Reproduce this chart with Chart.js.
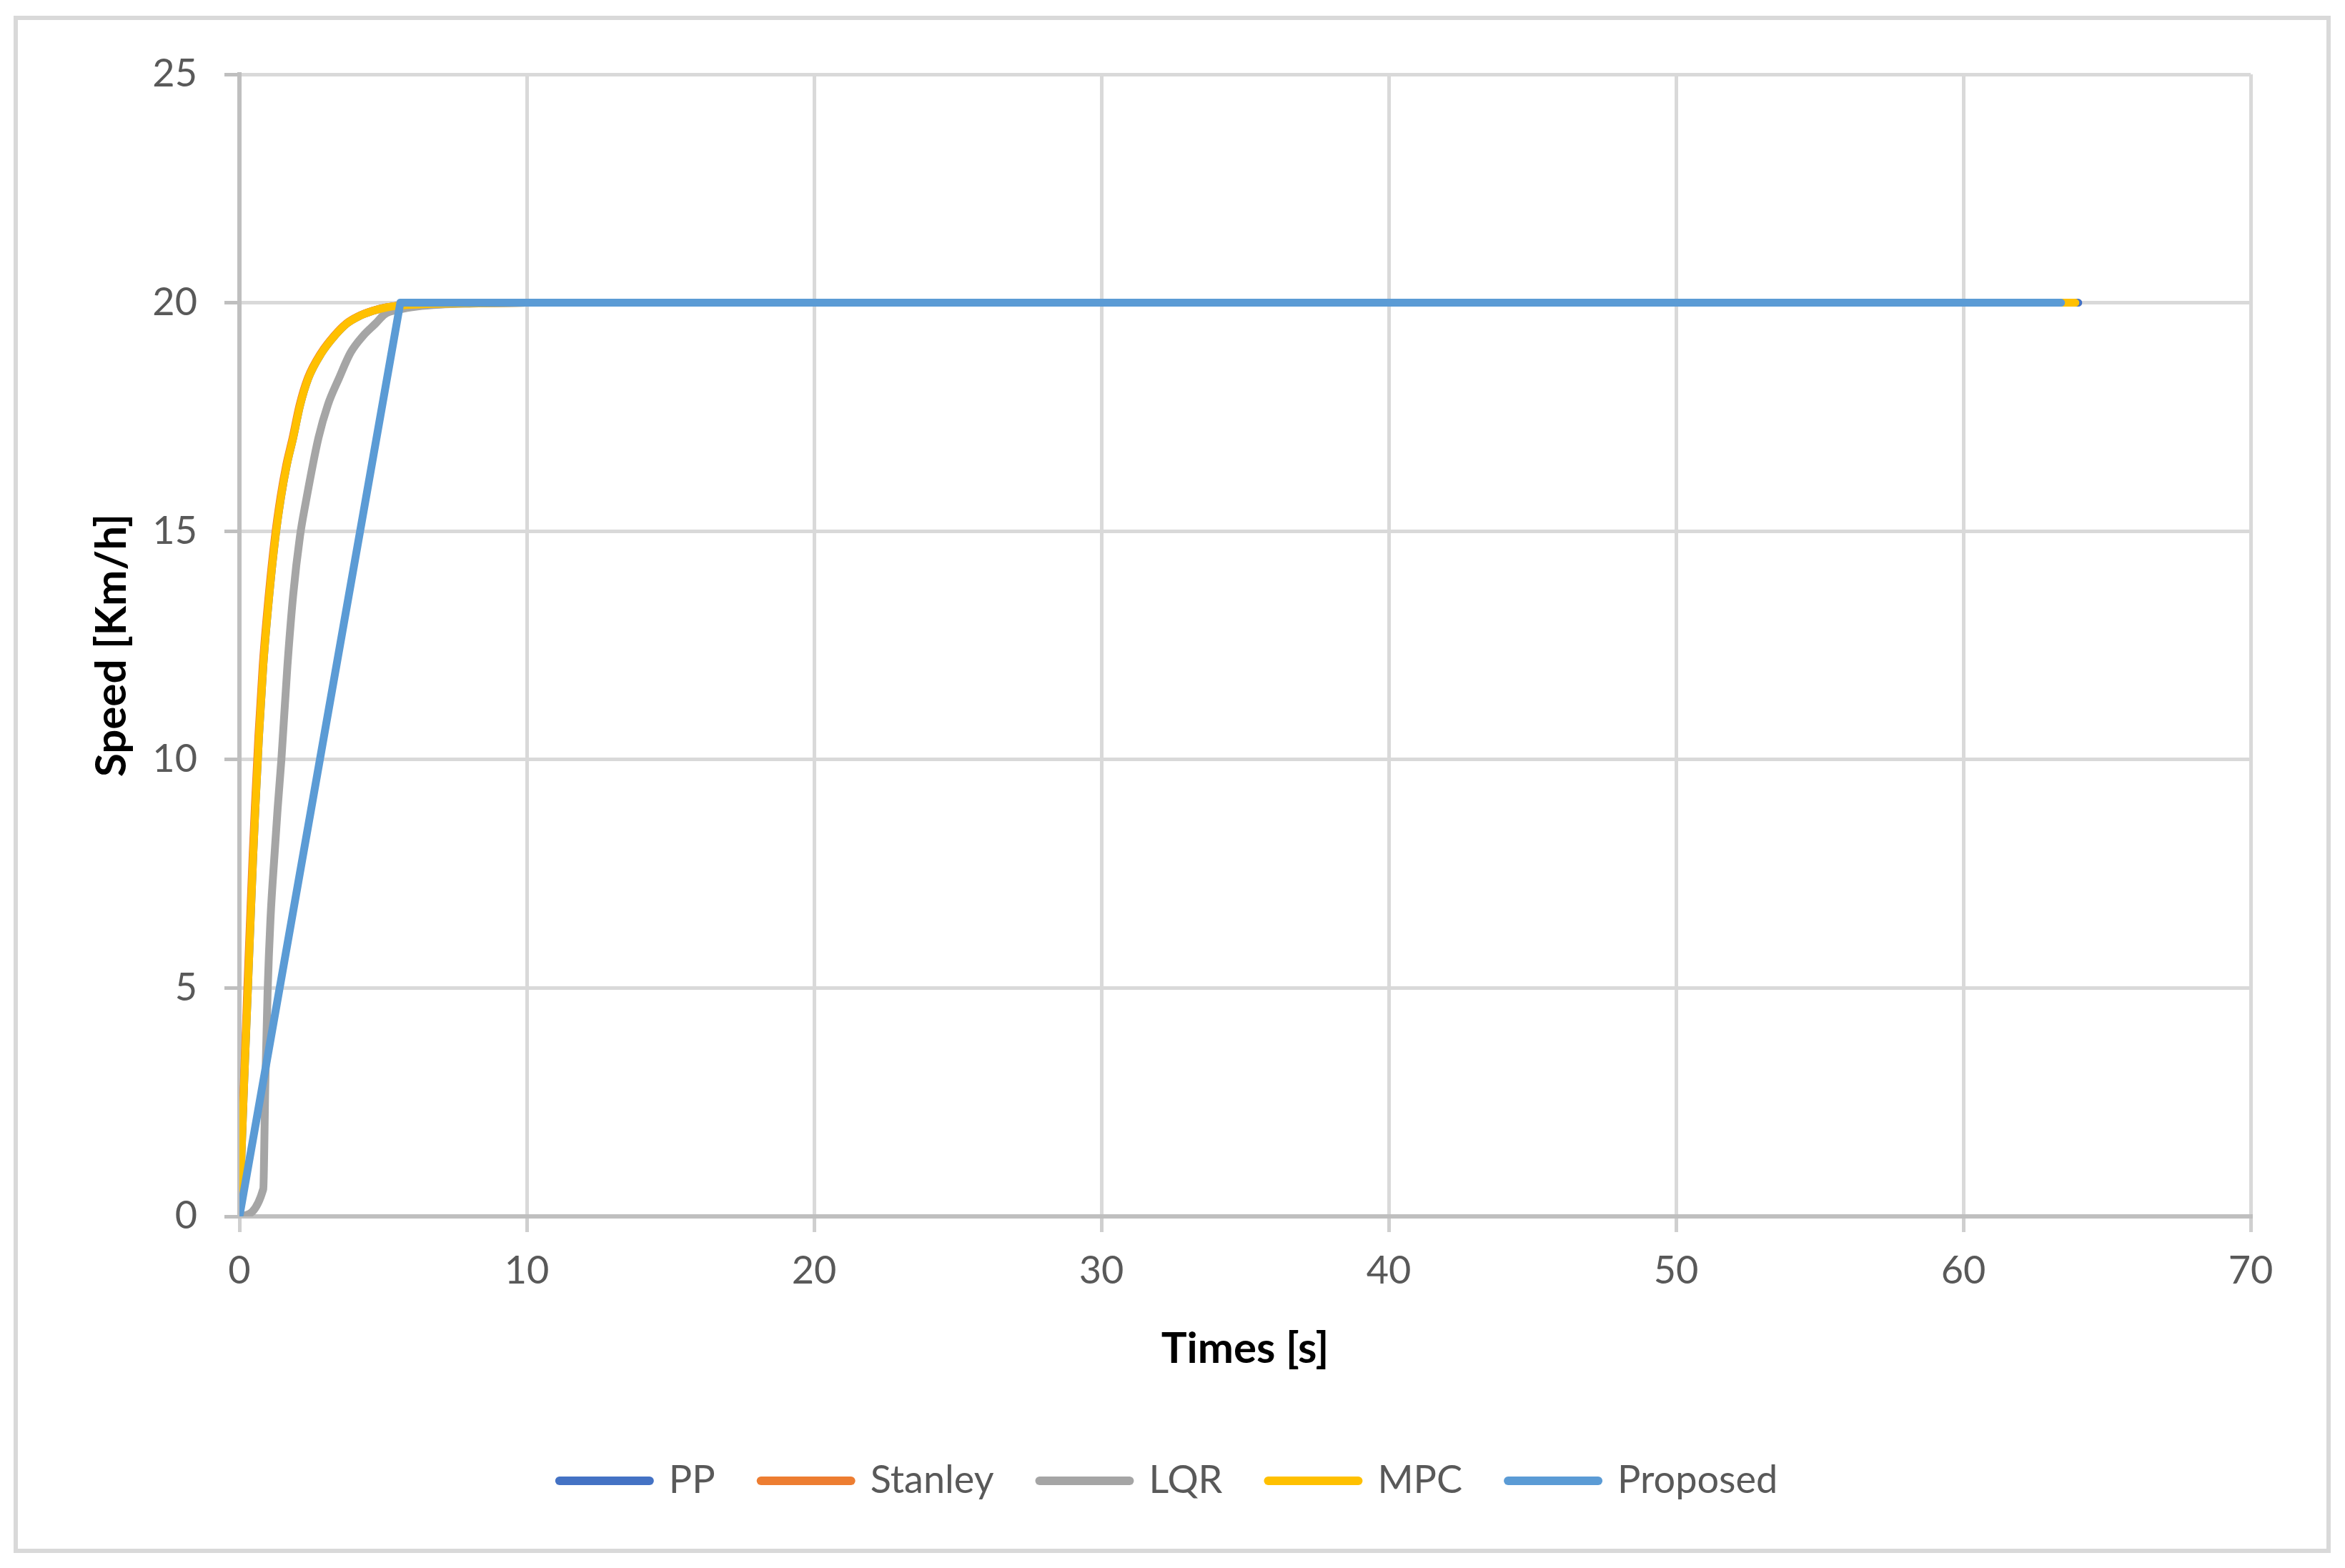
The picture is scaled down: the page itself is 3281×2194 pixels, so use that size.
<!DOCTYPE html>
<html>
<head>
<meta charset="utf-8">
<script src="https://cdn.jsdelivr.net/npm/chart.js@4.4.1/dist/chart.umd.min.js"></script>
<style>
html,body{margin:0;padding:0;background:#ffffff;}
#wrap{position:relative;width:3281px;height:2194px;overflow:hidden;}
#frame{position:absolute;left:19px;top:22px;width:3242px;height:2151px;border:6px solid #d9d9d9;box-sizing:border-box;pointer-events:none;}
canvas{position:absolute;left:0;top:0;}
</style>
</head>
<body>
<div id="wrap"><canvas id="c" width="3281" height="2194"></canvas><div id="frame"></div></div>
<script>
// ---- data ----
const seriesNames = ["PP", "Stanley", "LQR", "MPC", "Proposed"];
const seriesColors = ["#4472C4", "#ED7D31", "#A5A5A5", "#FFC000", "#5B9BD5"];

const ppTime  = [0, 0.04, 0.16, 0.29, 0.39, 0.48, 0.56, 0.68, 0.83, 1.04, 1.25, 1.45, 1.65, 1.87, 2.11, 2.40, 2.86, 3.32, 3.73, 4.15, 4.64, 5.14, 5.6, 6.5, 8, 10, 20, 30, 40, 50, 60, 64.0];
const ppSpeed = [0, 0.8, 2.85, 4.9, 6.5, 7.9, 9.0, 10.5, 12.05, 13.6, 14.85, 15.75, 16.45, 17.04, 17.75, 18.35, 18.9, 19.28, 19.54, 19.7, 19.82, 19.9, 19.94, 19.97, 19.99, 20, 20, 20, 20, 20, 20, 20];

const stanleyTime  = [0, 0.03, 0.15, 0.27, 0.37, 0.46, 0.54, 0.66, 0.81, 1.02, 1.23, 1.43, 1.63, 1.85, 2.09, 2.38, 2.84, 3.30, 3.71, 4.13, 4.62, 5.12, 5.6, 6.5, 8, 10, 20, 30, 40, 50, 60, 63.4];
const stanleySpeed = [0, 0.8, 2.85, 4.9, 6.5, 7.9, 9.0, 10.5, 12.05, 13.6, 14.85, 15.75, 16.45, 17.04, 17.75, 18.35, 18.9, 19.28, 19.54, 19.7, 19.82, 19.9, 19.94, 19.97, 19.99, 20, 20, 20, 20, 20, 20, 20];

const lqrTime  = [0, 0.83, 0.9, 0.98, 1.08, 1.23, 1.33, 1.46, 1.67, 1.87, 2.11, 2.3, 2.75, 3.08, 3.46, 3.87, 4.31, 4.73, 5.06, 5.55, 6.2, 7, 8, 10, 20, 30, 40, 50, 60, 62.3];
const lqrSpeed = [0, 0.6, 2.9, 4.9, 6.5, 8.0, 8.93, 10.0, 12.05, 13.6, 14.9, 15.6, 17.04, 17.77, 18.34, 18.91, 19.28, 19.54, 19.75, 19.85, 19.92, 19.96, 19.98, 20, 20, 20, 20, 20, 20, 20];

const mpcTime  = [0, 0.04, 0.16, 0.29, 0.39, 0.48, 0.56, 0.68, 0.83, 1.04, 1.25, 1.45, 1.65, 1.87, 2.11, 2.40, 2.86, 3.32, 3.73, 4.15, 4.64, 5.14, 5.6, 6.5, 8, 10, 20, 30, 40, 50, 60, 63.9];
const mpcSpeed = [0, 0.8, 2.85, 4.9, 6.5, 7.9, 9.0, 10.5, 12.05, 13.6, 14.85, 15.75, 16.45, 17.04, 17.75, 18.35, 18.9, 19.28, 19.54, 19.7, 19.82, 19.9, 19.94, 19.97, 19.99, 20, 20, 20, 20, 20, 20, 20];

const proposedTime  = [0, 5.6, 10, 20, 30, 40, 50, 60, 63.4];
const proposedSpeed = [0, 20, 20, 20, 20, 20, 20, 20, 20];

const xTicks = [0, 10, 20, 30, 40, 50, 60, 70];
const yTicks = [0, 5, 10, 15, 20, 25];
const xTitle = "Times [s]";
const yTitle = "Speed [Km/h]";

// ---- build chart ----
const times  = [ppTime, stanleyTime, lqrTime, mpcTime, proposedTime];
const speeds = [ppSpeed, stanleySpeed, lqrSpeed, mpcSpeed, proposedSpeed];
const toPoints = (t, v) => t.map((x, i) => ({x: x, y: v[i]}));

Chart.defaults.font.family = "Lato, 'Open Sans', sans-serif";

const datasets = seriesNames.map((name, i) => ({
  label: name,
  data: toPoints(times[i], speeds[i]),
  borderColor: seriesColors[i],
  backgroundColor: seriesColors[i],
  borderWidth: 11,
  borderCapStyle: 'round',
  borderJoinStyle: 'round',
  pointRadius: 0,
  pointHoverRadius: 0,
  fill: false,
  tension: 0,
  cubicInterpolationMode: name === "Proposed" ? 'default' : 'monotone',
  order: seriesNames.length - i
}));

new Chart(document.getElementById('c'), {
  type: 'line',
  data: { datasets: datasets },
  options: {
    responsive: false,
    animation: false,
    devicePixelRatio: 1,
    layout: { padding: { left: 121, right: 132, top: 104, bottom: 85 } },
    plugins: {
      tooltip: { enabled: false },
      legend: {
        display: true,
        position: 'bottom',
        align: 'center',
        title: { display: true, text: ' ', font: { size: 10 }, padding: { top: 45, bottom: 0 } },
        labels: {
          usePointStyle: true,
          pointStyle: 'line',
          pointStyleWidth: 126,
          boxHeight: 54,
          padding: 64,
          color: '#595959',
          font: { size: 54 },
          generateLabels: (chart) => Chart.defaults.plugins.legend.labels.generateLabels(chart).map(l => Object.assign(l, {
            lineWidth: 12,
            lineCap: 'round',
            strokeStyle: seriesColors[l.datasetIndex],
            fillStyle: seriesColors[l.datasetIndex],
            pointStyle: 'line'
          })),
          sort: (a, b) => a.datasetIndex - b.datasetIndex
        }
      }
    },
    scales: {
      x: {
        type: 'linear',
        min: 0, max: 70,
        afterBuildTicks: (s) => { s.ticks = xTicks.map(v => ({value: v})); },
        afterFit: (s) => { s.height = 222; },
        grid: { color: '#d9d9d9', lineWidth: 5, drawTicks: true, tickLength: 22, tickColor: '#cfcfcf', tickWidth: 5 },
        border: { display: true, color: '#bfbfbf', width: 6 },
        ticks: { color: '#595959', font: { size: 54 }, padding: 22, maxRotation: 0 },
        title: { display: true, text: xTitle, color: '#000000', font: { size: 60, weight: 'bold' }, padding: 0 }
      },
      y: {
        type: 'linear',
        min: 0, max: 25,
        afterBuildTicks: (s) => { s.ticks = yTicks.map(v => ({value: v})); },
        afterFit: (s) => { s.width = 214; },
        grid: { color: '#d9d9d9', lineWidth: 5, drawTicks: true, tickLength: 21, tickColor: '#bfbfbf', tickWidth: 5 },
        border: { display: true, color: '#bfbfbf', width: 6 },
        ticks: { color: '#595959', font: { size: 54 }, padding: 38 },
        title: { display: true, text: yTitle, color: '#000000', font: { size: 60, weight: 'bold' }, padding: 0 }
      }
    }
  }
});
</script>
</body>
</html>
